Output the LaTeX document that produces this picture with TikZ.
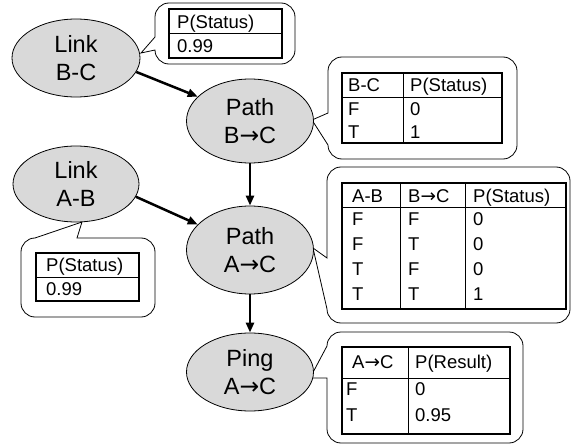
\documentclass[tikz,border=0pt]{standalone}
\usepackage{fontspec}
\setmainfont{Liberation Sans}
\newfontfamily\arrfont{DejaVu Sans}
\newcommand{\rarr}{{\arrfont →}}
\usetikzlibrary{shapes.geometric,arrows.meta}
\tikzset{
  bnode/.style={ellipse, draw=black, line width=0.8pt, fill=black!15, inner sep=0pt, align=center, font=\fontsize{23.5}{28}\selectfont},
  flow/.style={line width=2.5pt, -{Triangle[length=10pt,width=8pt]}},
  bubble/.style={draw=black, line width=0.8pt, fill=white},
  tframe/.style={line width=2.8pt},
  tline/.style={line width=0.8pt},
  ttxt/.style={anchor=west, inner sep=0pt, text height=13.3pt, text depth=0pt, font=\fontsize{18.5}{22}\selectfont},
}
\begin{document}
\begin{tikzpicture}[x=1pt,y=-1pt]
\useasboundingbox (0,0) rectangle (571,444);

% callouts
\draw[bubble] (155,37) -- (155,17) arc[start angle=180,end angle=90,radius=14pt] -- (281,3) arc[start angle=90,end angle=0,radius=14pt] -- (295,50) arc[start angle=0,end angle=-90,radius=14pt] -- (169,64) arc[start angle=270,end angle=180,radius=14pt] -- (141,53) -- cycle;
\draw[bubble] (328,113) -- (328,71) arc[start angle=180,end angle=90,radius=14pt] -- (503,57) arc[start angle=90,end angle=0,radius=14pt] -- (517,145) arc[start angle=0,end angle=-90,radius=14pt] -- (342,159) arc[start angle=270,end angle=180,radius=14pt] -- (312,120) -- cycle;
\draw[bubble] (327,258) -- (327,181) arc[start angle=180,end angle=90,radius=14pt] -- (556,167) arc[start angle=90,end angle=0,radius=14pt] -- (570,309) arc[start angle=0,end angle=-90,radius=14pt] -- (341,323) arc[start angle=270,end angle=180,radius=14pt] -- (313,248) -- cycle;
\draw[bubble] (77,238) -- (141,238) arc[start angle=90,end angle=0,radius=14pt] -- (155,303) arc[start angle=0,end angle=-90,radius=14pt] -- (35,317) arc[start angle=270,end angle=180,radius=14pt] -- (21,252) arc[start angle=180,end angle=90,radius=14pt] -- (82,222) -- cycle;
\draw[bubble] (327,346) arc[start angle=180,end angle=90,radius=14pt] -- (509,332) arc[start angle=90,end angle=0,radius=14pt] -- (523,429) arc[start angle=0,end angle=-90,radius=14pt] -- (341,443) arc[start angle=270,end angle=180,radius=14pt] -- (327,378) -- (310,378) -- cycle;

% table 1
\draw[tline] (169,33) -- (282,33);
\draw[tframe] (169,9) rectangle (282,58);
\node[ttxt] (t1a) at (177,21.5) {P(Status)};
\node[ttxt] (t1b) at (177,46) {0.99};

% table 2
\draw[tline] (342,97) -- (502,97) (403,73) -- (403,143);
\draw[tframe] (342,73) rectangle (502,143);
\node[ttxt] (t2a) at (348,85) {B-C};
\node[ttxt] (t2b) at (410,85) {P(Status)};
\node[ttxt] (t2c) at (348,109) {F};
\node[ttxt] (t2d) at (410,109) {0};
\node[ttxt] (t2e) at (348,132) {T};
\node[ttxt] (t2f) at (410,132) {1};

% table 3
\draw[tline] (342,207) -- (566,207) (400,183) -- (400,309) (465,183) -- (465,309);
\draw[tframe] (342,183) rectangle (566,309);
\node[ttxt] (t3a) at (352,196) {A-B};
\node[ttxt] (t3b) at (408,196) {B\rarr C};
\node[ttxt] (t3c) at (473,196) {P(Status)};
\node[ttxt] (t3d) at (352,219) {F};
\node[ttxt] (t3e) at (408,219) {F};
\node[ttxt] (t3f) at (473,219) {0};
\node[ttxt] (t3g) at (352,244) {F};
\node[ttxt] (t3h) at (408,244) {T};
\node[ttxt] (t3i) at (473,244) {0};
\node[ttxt] (t3j) at (352,269) {T};
\node[ttxt] (t3k) at (408,269) {F};
\node[ttxt] (t3l) at (473,269) {0};
\node[ttxt] (t3m) at (352,294) {T};
\node[ttxt] (t3n) at (408,294) {T};
\node[ttxt] (t3o) at (473,294) {1};

% table 4
\draw[tline] (36,277) -- (139,277);
\draw[tframe] (36,253) rectangle (139,301);
\node[ttxt] (t4a) at (46,265) {P(Status)};
\node[ttxt] (t4b) at (46,289) {0.99};

% table 5
\draw[tline] (342,378) -- (510,378) (408,347) -- (408,434);
\draw[tframe] (342,347) rectangle (510,434);
\node[ttxt] (t5a) at (352,362) {A\rarr C};
\node[ttxt] (t5b) at (415,362) {P(Result)};
\node[ttxt] (t5c) at (346,389) {F};
\node[ttxt] (t5d) at (415,389) {0};
\node[ttxt] (t5e) at (346,415) {T};
\node[ttxt] (t5f) at (415,415) {0.95};

% nodes
\node[bnode, minimum width=128pt, minimum height=78pt] (linkbc) at (76,58) {Link\\B-C};
\node[bnode, minimum width=126pt, minimum height=76pt] (linkab) at (76,184) {Link\\A-B};
\node[bnode, minimum width=127pt, minimum height=84pt] (pathbc) at (250,121) {Path\\B\rarr C};
\node[bnode, minimum width=127pt, minimum height=88pt] (pathac) at (250,250) {Path\\A\rarr C};
\node[bnode, minimum width=127pt, minimum height=78pt] (ping) at (250,372) {Ping\\A\rarr C};

% arrows
\draw[flow] (linkbc.-13) -- (pathbc.155);
\draw[flow] (linkab.-12) -- (pathac.154);
\draw[flow] (pathbc.south) -- (pathac.north);
\draw[flow] (pathac.south) -- (ping.north);
\end{tikzpicture}
\end{document}
